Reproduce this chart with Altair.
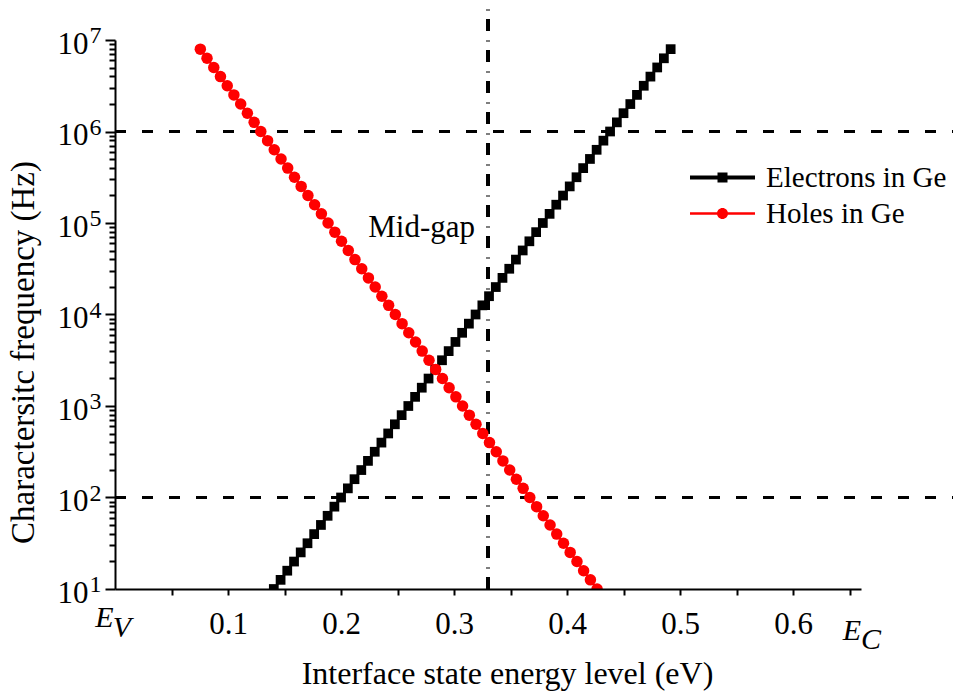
import altair as alt
import pandas as pd

# ---------------- data ----------------
freq_hz = [
    10.0, 12.59, 15.85, 19.95, 25.12, 31.62, 39.81, 50.12, 63.10, 79.43,
    100.0, 125.9, 158.5, 199.5, 251.2, 316.2, 398.1, 501.2, 631.0, 794.3,
    1000.0, 1259.0, 1585.0, 1995.0, 2512.0, 3162.0, 3981.0, 5012.0, 6310.0, 7943.0,
    1.000e4, 1.259e4, 1.585e4, 1.995e4, 2.512e4, 3.162e4, 3.981e4, 5.012e4, 6.310e4, 7.943e4,
    1.000e5, 1.259e5, 1.585e5, 1.995e5, 2.512e5, 3.162e5, 3.981e5, 5.012e5, 6.310e5, 7.943e5,
    1.000e6, 1.259e6, 1.585e6, 1.995e6, 2.512e6, 3.162e6, 3.981e6, 5.012e6, 6.310e6, 7.943e6,
]

electron_energy_ev = [
    0.1405, 0.1465, 0.1524, 0.1584, 0.1643, 0.1703, 0.1762, 0.1822, 0.1881, 0.1941,
    0.2000, 0.2060, 0.2119, 0.2179, 0.2238, 0.2298, 0.2357, 0.2417, 0.2476, 0.2536,
    0.2595, 0.2655, 0.2714, 0.2774, 0.2833, 0.2893, 0.2952, 0.3012, 0.3071, 0.3131,
    0.3190, 0.3250, 0.3309, 0.3369, 0.3428, 0.3488, 0.3547, 0.3607, 0.3666, 0.3726,
    0.3785, 0.3845, 0.3904, 0.3964, 0.4023, 0.4083, 0.4142, 0.4202, 0.4261, 0.4321,
    0.4380, 0.4440, 0.4499, 0.4559, 0.4618, 0.4678, 0.4737, 0.4797, 0.4856, 0.4916,
]

hole_energy_ev = [
    0.4265, 0.4206, 0.4146, 0.4087, 0.4027, 0.3968, 0.3908, 0.3849, 0.3789, 0.3730,
    0.3670, 0.3611, 0.3551, 0.3492, 0.3432, 0.3373, 0.3313, 0.3254, 0.3194, 0.3135,
    0.3075, 0.3016, 0.2956, 0.2897, 0.2837, 0.2778, 0.2718, 0.2659, 0.2599, 0.2540,
    0.2480, 0.2421, 0.2361, 0.2302, 0.2242, 0.2183, 0.2123, 0.2064, 0.2004, 0.1945,
    0.1885, 0.1826, 0.1766, 0.1707, 0.1647, 0.1588, 0.1528, 0.1469, 0.1409, 0.1350,
    0.1290, 0.1231, 0.1171, 0.1112, 0.1052, 0.0993, 0.0933, 0.0874, 0.0814, 0.0755,
]

series_names = ["Electrons in Ge", "Holes in Ge"]
series_colors = ["#000000", "#FF0000"]
series_shapes = ["square", "circle"]

reference_freqs_hz = [1e2, 1e6]
mid_gap_ev = [0.33]
mid_gap_span_hz = [10.0, 3e7]
band_edge_ev = [0.0, 0.66]
band_edge_sub = ["V", "C"]

x_tick_values = [0.05, 0.10, 0.15, 0.20, 0.25, 0.30, 0.35, 0.40, 0.45, 0.50, 0.55, 0.60, 0.65]
y_major_ticks = [1e1, 1e2, 1e3, 1e4, 1e5, 1e6, 1e7]
y_minor_ticks = [m * d for d in [1e1, 1e2, 1e3, 1e4, 1e5, 1e6] for m in [2, 3, 4, 5, 6, 7, 8, 9]]

# ---------------- tables ----------------
df = pd.DataFrame({
    "energy": electron_energy_ev + hole_energy_ev,
    "freq": freq_hz + freq_hz,
    "series": [series_names[0]] * len(freq_hz) + [series_names[1]] * len(freq_hz),
})
ref_df = pd.DataFrame({"freq": reference_freqs_hz})
mid_df = pd.DataFrame({"energy": mid_gap_ev, "lo": [mid_gap_span_hz[0]], "hi": [mid_gap_span_hz[1]],
                       "label": ["Mid-gap"]})
edge_df = pd.DataFrame({"energy": band_edge_ev, "sub": band_edge_sub})

FONT = "Liberation Serif"
W, H = 746, 549

xscale = alt.Scale(domain=[0, 0.66], nice=False, zero=False)
yscale = alt.Scale(type="log", domain=[10, 1e7], nice=False)

xaxis = alt.Axis(
    values=x_tick_values,
    labelExpr="(abs(round(datum.value*10) - datum.value*10) < 0.01 && datum.value > 0.01) ? format(datum.value, '.1f') : ''",
    tickSize=6, tickWidth=2, tickColor="black",
    domainWidth=2, domainColor="black",
    labelFont=FONT, labelFontSize=31, labelColor="black",
    labelBaseline="alphabetic", labelPadding=38, labelFlush=False, labelOverlap=False,
    grid=False, zindex=1,
    title="Interface state energy level (eV)", titleFont=FONT, titleFontSize=32,
    titleFontWeight="normal", titleColor="black",
    titleX=392, titleY=94, titleBaseline="alphabetic", titleAlign="center",
)

y_axis_major = alt.Axis(
    orient="left", values=y_major_ticks, labelExpr="'10'",
    tickSize=10, tickWidth=2, tickColor="black",
    domainWidth=2, domainColor="black",
    labelFont=FONT, labelFontSize=31, labelColor="black",
    labelBaseline="alphabetic", labelOffset=13, labelPadding=17,
    labelFlush=False, labelOverlap=False, grid=False, zindex=1,
    title="Charactersitc frequency (Hz)", titleFont=FONT, titleFontSize=33,
    titleFontWeight="normal", titleColor="black",
    titleAngle=270, titleX=-82, titleY=312, titleBaseline="alphabetic", titleAlign="center",
)
y_axis_exp = alt.Axis(
    orient="left", values=y_major_ticks,
    labelExpr="'' + round(log(datum.value) / LN10)",
    ticks=False, tickSize=0, domain=False,
    labelFont=FONT, labelFontSize=24, labelColor="black",
    labelAlign="left", labelBaseline="alphabetic", labelOffset=2.5, labelPadding=26,
    labelFlush=False, labelOverlap=False, grid=False, title=None, zindex=1,
)
y_axis_minor = alt.Axis(
    orient="left", values=y_minor_ticks, labels=False, domain=False,
    tickSize=6, tickWidth=2, tickColor="black", grid=False, title=None, zindex=1,
)

color_scale = alt.Scale(domain=series_names, range=series_colors)

path_electron = "M-3.25,-0.2H3.25V0.2H-3.25Z M-0.5,-0.5H0.5V0.5H-0.5Z"
path_hole = "M-3.25,-0.13H3.25V0.13H-3.25Z M-0.55,0A0.55,0.55,0,1,1,0.55,0A0.55,0.55,0,1,1,-0.55,0Z"

legend = alt.Legend(
    title=None, orient="none", legendX=593, legendY=123, padding=0,
    symbolType=alt.ExprRef(expr=f"datum.value === 'Holes in Ge' ? '{path_hole}' : '{path_electron}'"),
    symbolSize=400, symbolStrokeWidth=0, symbolOpacity=1,
    labelFont=FONT, labelFontSize=29, labelColor="black", labelOffset=29,
    rowPadding=6, labelLimit=400,
)
color_enc = alt.Color("series:N", scale=color_scale, legend=legend)

hrules = alt.Chart(ref_df).mark_rule(
    color="black", strokeWidth=3, strokeDash=[11, 16], clip=False
).encode(
    x=alt.value(0), x2=alt.value(W + 100),
    y=alt.Y("freq:Q", scale=yscale, axis=y_axis_minor),
)

vrule = alt.Chart(mid_df).mark_rule(
    color="black", strokeWidth=4, strokeDash=[12, 8.5, 1, 9.5], clip=False
).encode(
    x=alt.X("energy:Q", scale=xscale, axis=xaxis),
    y=alt.Y("lo:Q", scale=yscale, axis=None),
    y2="hi:Q",
)

lines = alt.Chart(df).mark_line(clip=True, strokeWidth=2).encode(
    x=alt.X("energy:Q", scale=xscale, axis=xaxis),
    y=alt.Y("freq:Q", scale=yscale, axis=y_axis_major),
    color=color_enc,
)

pts_e = alt.Chart(df).transform_filter(
    alt.datum.series == series_names[0]
).mark_point(filled=True, clip=True, opacity=1, strokeWidth=0, shape=series_shapes[0], size=95).encode(
    x=alt.X("energy:Q", scale=xscale, axis=xaxis),
    y=alt.Y("freq:Q", scale=yscale, axis=y_axis_exp),
    color=color_enc,
)
pts_h = alt.Chart(df).transform_filter(
    alt.datum.series == series_names[1]
).mark_point(filled=True, clip=True, opacity=1, strokeWidth=0, shape=series_shapes[1], size=132).encode(
    x=alt.X("energy:Q", scale=xscale, axis=xaxis),
    y=alt.Y("freq:Q", scale=yscale, axis=None),
    color=color_enc,
)

mid_text = alt.Chart(mid_df).mark_text(
    font=FONT, fontSize=31, color="black", align="right", baseline="alphabetic", dx=-13
).encode(
    x=alt.X("energy:Q", scale=xscale, axis=xaxis),
    y=alt.value(197),
    text="label:N",
)

ev = edge_df[edge_df["sub"] == "V"]
ec = edge_df[edge_df["sub"] == "C"]


def edge_letter(data, dx, ybase, text_field=None, txt=None):
    kw = dict(font=FONT, fontSize=30, fontStyle="italic", color="black",
              align="center", baseline="alphabetic", dx=dx)
    if txt is not None:
        kw["text"] = txt
    enc = dict(x=alt.X("energy:Q", scale=xscale, axis=xaxis), y=alt.value(ybase))
    if text_field is not None:
        enc["text"] = text_field
    return alt.Chart(data).mark_text(**kw).encode(**enc)


ev_e = edge_letter(ev, -10.5, 587, txt="E")
ev_s = edge_letter(ev, 7, 597, text_field="sub:N")
ec_e = edge_letter(ec, -9, 600, txt="E")
ec_s = edge_letter(ec, 10, 609, text_field="sub:N")

chart = alt.layer(
    hrules, vrule, lines, pts_e, pts_h, mid_text, ev_e, ev_s, ec_e, ec_s
).resolve_axis(y="independent").properties(
    width=W, height=H,
    autosize=alt.AutoSizeParams(type="none"),
    padding={"left": 115, "top": 40, "right": 92, "bottom": 109},
    background="white",
).configure_view(stroke=None)

chart.save("out.html", embed_options={"renderer": "svg", "actions": False})
